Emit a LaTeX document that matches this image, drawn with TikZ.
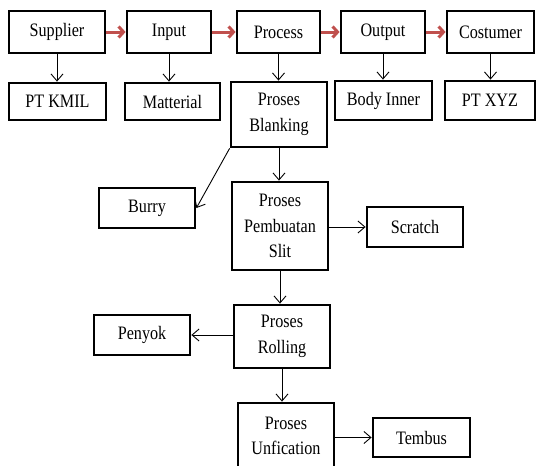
\documentclass[tikz,border=0pt]{standalone}
\usepackage{fontspec}
\setmainfont[FakeStretch=0.85]{Liberation Serif}
\usetikzlibrary{arrows.meta}
\definecolor{flowred}{RGB}{192,80,77}
\tikzset{
  box/.style={draw=black, line width=2.8pt, fill=white, align=center,
    font=\fontsize{19}{25.5}\selectfont, inner sep=0pt},
  arr/.style={draw=black, line width=0.9pt, -{Straight Barb[length=7pt,width=12pt]}},
  flow/.style={draw=flowred, line width=3pt, -{Straight Barb[length=5pt,width=11pt]}}
}
\begin{document}
\begin{tikzpicture}[x=1pt,y=-1pt]
\useasboundingbox (0,0) rectangle (539,466);
\clip (0,0) rectangle (539,466);

% main chain
\node[box, minimum width=96pt, minimum height=42pt] (sup)  at (57,32)    {Supplier};
\node[box, minimum width=84pt, minimum height=42pt] (inp)  at (169,32)   {Input};
\node[box, minimum width=83pt, minimum height=42pt] (proc) at (278.5,32) {Process};
\node[box, minimum width=84pt, minimum height=42pt] (out)  at (383,32)   {Output};
\node[box, minimum width=87pt, minimum height=42pt] (cos)  at (490.5,32) {Costumer};

% second row
\node[box, minimum width=97pt, minimum height=37pt] (kmil)  at (57.5,101.5) {PT KMIL};
\node[box, minimum width=95pt, minimum height=37pt] (mat)   at (172.5,101.5) {Matterial};
\node[box, minimum width=96pt, minimum height=65pt] (blank) at (279,114.5) {Proses\\Blanking};
\node[box, minimum width=97pt, minimum height=39pt] (body)  at (383.5,100.5) {Body Inner};
\node[box, minimum width=90pt, minimum height=39pt] (xyz)   at (490,100.5) {PT XYZ};

% process steps and defects
\node[box, minimum width=96pt, minimum height=40pt] (burry)   at (147,208)   {Burry};
\node[box, minimum width=96pt, minimum height=88pt] (slit)    at (280,226)   {Proses\\Pembuatan\\Slit};
\node[box, minimum width=96pt, minimum height=40pt] (scratch) at (415,227)   {Scratch};
\node[box, minimum width=96pt, minimum height=63pt] (roll)    at (282,336.5) {Proses\\Rolling};
\node[box, minimum width=96pt, minimum height=40pt] (penyok)  at (142,335)   {Penyok};
\node[box, minimum width=96pt, minimum height=66pt] (unf)     at (286,436)   {Proses\\Unfication};
\node[box, minimum width=97pt, minimum height=39pt] (tembus)  at (421.5,437.5) {Tembus};

% red flow arrows
\draw[flow] (sup.east)  -- (inp.west);
\draw[flow] (inp.east)  -- (proc.west);
\draw[flow] (proc.east) -- (out.west);
\draw[flow] (out.east)  -- (cos.west);

% vertical arrows
\draw[arr] (sup.south)  -- (sup.south |- kmil.north);
\draw[arr] (inp.south)  -- (inp.south |- mat.north);
\draw[arr] (proc.south) -- (proc.south |- blank.north);
\draw[arr] (out.south)  -- (out.south |- body.north);
\draw[arr] (cos.south)  -- (cos.south |- xyz.north);
\draw[arr] (blank.south) -- (blank.south |- slit.north);
\draw[arr] (slit.south)  -- (slit.south |- roll.north);
\draw[arr] (roll.south)  -- (roll.south |- unf.north);

% defect arrows
\draw[arr] (blank.south west) -- (burry.east);
\draw[arr] (slit.east |- scratch.west) -- (scratch.west);
\draw[arr] (roll.west |- penyok.east) -- (penyok.east);
\draw[arr] (unf.east |- tembus.west) -- (tembus.west);
\end{tikzpicture}
\end{document}
